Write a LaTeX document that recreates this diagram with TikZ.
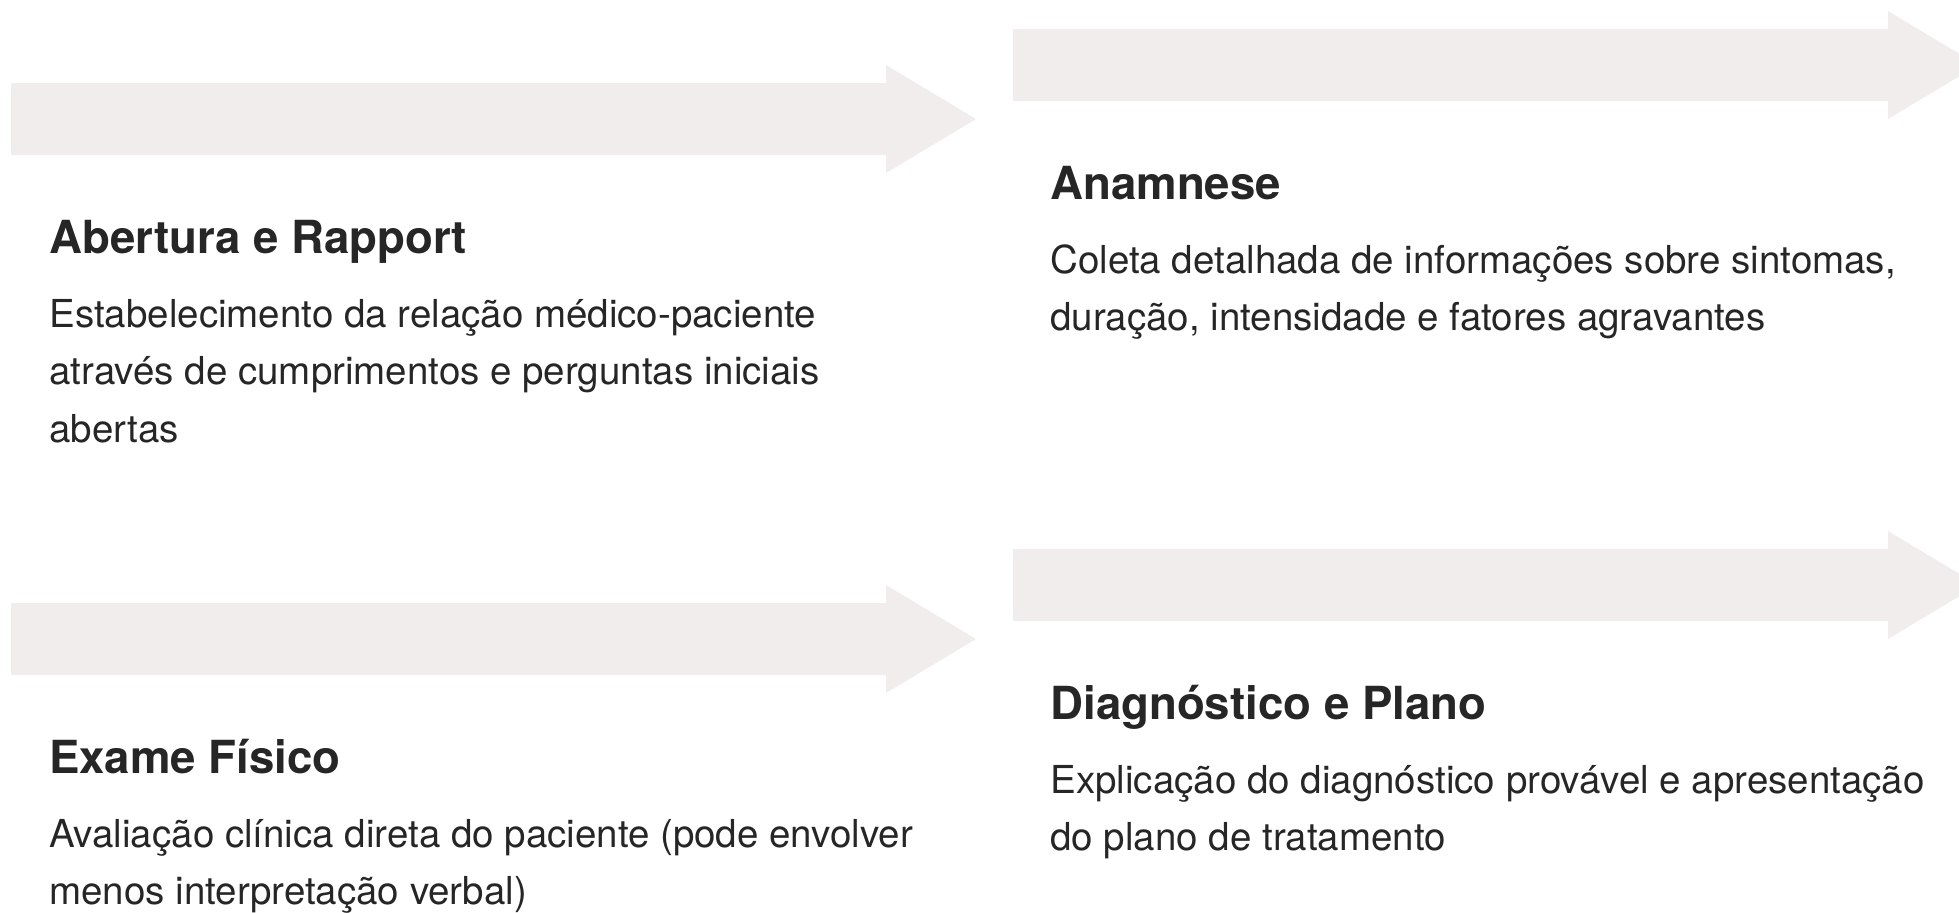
\documentclass[tikz,border=0pt]{standalone}
\usepackage{fontspec}
\setmainfont{TeX Gyre Heros}
\definecolor{bannergray}{HTML}{F0EDEC}
\definecolor{ink}{HTML}{262626}

\begin{document}
\begin{tikzpicture}[x=0.5pt,y=-0.5pt,
  titre/.style={anchor=base west,inner sep=0pt,text=ink,font=\fontsize{22.8}{27}\selectfont\bfseries},
  texte/.style={anchor=north west,inner sep=0pt,align=left,text=ink,font=\fontsize{19.25}{28.75}\selectfont}]
\useasboundingbox (0,0) rectangle (1959,912);

% les fleches
\fill[bannergray] (11,83) -- (886,83) -- (886,65) -- (976,119) -- (886,173) -- (886,155) -- (11,155) -- cycle;
\fill[bannergray] (1013,29) -- (1888,29) -- (1888,11) -- (1978,65) -- (1888,119) -- (1888,101) -- (1013,101) -- cycle;
\fill[bannergray] (11,603) -- (886,603) -- (886,585) -- (976,639) -- (886,693) -- (886,675) -- (11,675) -- cycle;
\fill[bannergray] (1013,549) -- (1888,549) -- (1888,531) -- (1978,585) -- (1888,639) -- (1888,621) -- (1013,621) -- cycle;

% les etapes (\strut : haut du texte = ligne de base - 0.7\baselineskip)
\node[titre] (abertura) at (49,253) {Abertura e Rapport};
\node[texte] (aberturatxt) at ([yshift=-16.875pt]abertura.base west) {\strut Estabelecimento da relação médico-paciente\\através de cumprimentos e perguntas iniciais\\abertas};

\node[titre] (anamnese) at (1050,199) {Anamnese};
\node[texte] (anamnesetxt) at ([yshift=-16.875pt]anamnese.base west) {\strut Coleta detalhada de informações sobre sintomas,\\duração, intensidade e fatores agravantes};

\node[titre] (exame) at (49,773) {Exame Físico};
\node[texte] (exametxt) at ([yshift=-16.875pt]exame.base west) {\strut Avaliação clínica direta do paciente (pode envolver\\menos interpretação verbal)};

\node[titre] (diagnostico) at (1050,719) {Diagnóstico e Plano};
\node[texte] (diagnosticotxt) at ([yshift=-16.875pt]diagnostico.base west) {\strut Explicação do diagnóstico provável e apresentação\\do plano de tratamento};
\end{tikzpicture}
\end{document}
